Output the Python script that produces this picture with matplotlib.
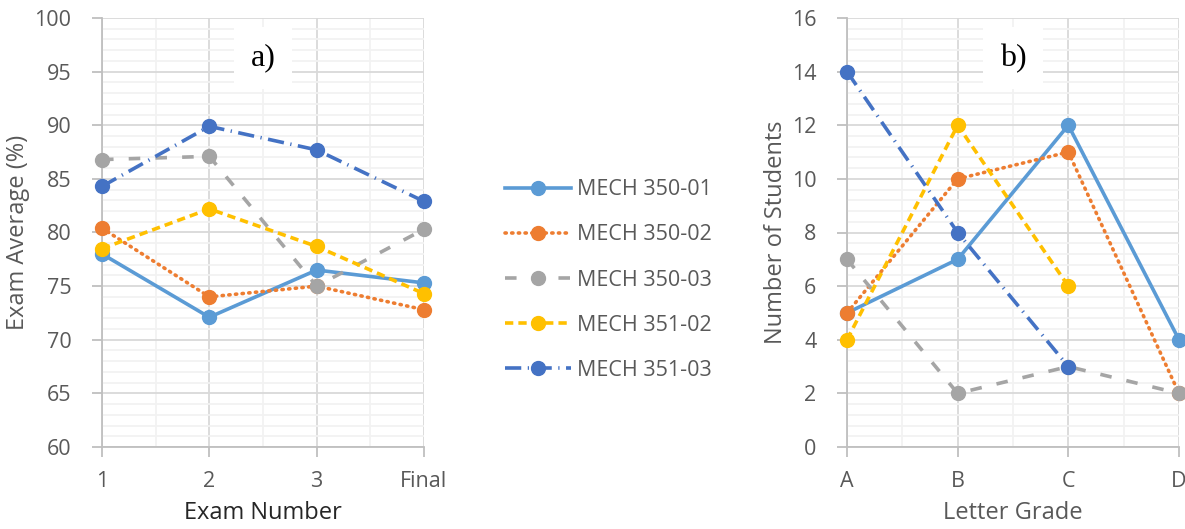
import matplotlib.pyplot as plt
import numpy as np
from matplotlib.ticker import MultipleLocator

exams = ['1', '2', '3', 'Final']
grades = ['A', 'B', 'C', 'D']
sections = ['MECH 350-01', 'MECH 350-02', 'MECH 350-03', 'MECH 351-02', 'MECH 351-03']

avg_350_01 = [78.0, 72.1, 76.5, 75.3]
avg_350_02 = [80.4, 74.0, 75.0, 72.8]
avg_350_03 = [86.8, 87.1, 75.0, 80.3]
avg_351_02 = [78.5, 82.2, 78.7, 74.3]
avg_351_03 = [84.3, 89.9, 87.7, 82.9]

cnt_350_01 = [5, 7, 12, 4]
cnt_350_02 = [5, 10, 11, 2]
cnt_350_03 = [7, 2, 3, 2]
cnt_351_02 = [4, 12, 6, np.nan]
cnt_351_03 = [14, 8, 3, np.nan]

colors = ['#5B9BD5', '#ED7D31', '#A5A5A5', '#FFC000', '#4472C4']
styles = ['-', (0, (0.35, 1.5)), (0, (3.2, 4.2)), (0, (2.3, 1.4)), (0, (4.5, 1.8, 0.35, 1.8))]
caps = ['round', 'round', 'butt', 'butt', 'butt']

plt.rcParams['font.family'] = ['Open Sans', 'DejaVu Sans']
txt = '#595959'

fig = plt.figure(figsize=(11.85, 5.29), dpi=100)
ax1 = fig.add_axes([102 / 1185, 82 / 529, 322 / 1185, 429 / 529])
ax2 = fig.add_axes([847 / 1185, 82 / 529, 332 / 1185, 429 / 529])


def style_axes(ax, ylim, major, minor, ylabel, xlabel, cats, xlab_color):
    x = np.arange(len(cats))
    ax.set_xlim(0, len(cats) - 1)
    ax.set_ylim(*ylim)
    ax.set_xticks(x)
    ax.set_xticklabels(cats)
    ax.xaxis.set_minor_locator(MultipleLocator(0.5))
    ax.yaxis.set_major_locator(MultipleLocator(major))
    ax.yaxis.set_minor_locator(MultipleLocator(minor))
    ax.grid(which='major', color='#D9D9D9', lw=1.3, zorder=0)
    ax.grid(which='minor', color='#F2F2F2', lw=1.3, zorder=0)
    ax.set_axisbelow(True)
    for s in ['top', 'right']:
        ax.spines[s].set_visible(False)
    for s in ['left', 'bottom']:
        ax.spines[s].set_color('#BFBFBF')
        ax.spines[s].set_linewidth(1.3)
    ax.tick_params(which='major', length=7, color='#BFBFBF', width=1.3,
                   labelsize=15.5, labelcolor=txt)
    ax.tick_params(axis='y', which='major', pad=15)
    ax.tick_params(axis='x', which='major', pad=10)
    ax.tick_params(which='minor', length=0)
    ax.set_ylabel(ylabel, fontsize=17, color=txt, labelpad=3)
    ax.set_xlabel(xlabel, fontsize=17, color=xlab_color, labelpad=7)
    for lab in ax.get_xticklabels() + ax.get_yticklabels():
        lab.set_clip_on(False)


style_axes(ax1, (60, 100), 5, 1, 'Exam Average (%)', 'Exam Number', exams, '#262626')
style_axes(ax2, (0, 16), 2, 0.4, 'Number of Students', 'Letter Grade', grades, txt)

avgs = [avg_350_01, avg_350_02, avg_350_03, avg_351_02, avg_351_03]
cnts = [cnt_350_01, cnt_350_02, cnt_350_03, cnt_351_02, cnt_351_03]

for i in range(5):
    ax1.plot(np.arange(4), avgs[i], color=colors[i], ls=styles[i], lw=2.6,
             dash_capstyle=caps[i], marker='o', ms=10, label=sections[i],
             clip_on=False, zorder=3)
    ax2.plot(np.arange(4), cnts[i], color=colors[i], ls=styles[i], lw=2.6,
             dash_capstyle=caps[i], marker='o', ms=10, clip_on=False, zorder=3)

ax1.text(1.5, 96.3, 'a)', fontsize=23, family='Liberation Serif', ha='center', va='center',
         bbox=dict(facecolor='white', edgecolor='none', pad=12), zorder=2)
ax2.text(1.5, 14.5, 'b)', fontsize=23, family='Liberation Serif', ha='center', va='center',
         bbox=dict(facecolor='white', edgecolor='none', pad=12), zorder=2)

fig.legend(loc='center left', bbox_to_anchor=(496 / 1185, 249 / 529), frameon=False,
           fontsize=15.5, labelcolor=txt, handlelength=3.1, labelspacing=1.12,
           handletextpad=0.25, borderaxespad=0)

fig.savefig('out.png', dpi=100)
